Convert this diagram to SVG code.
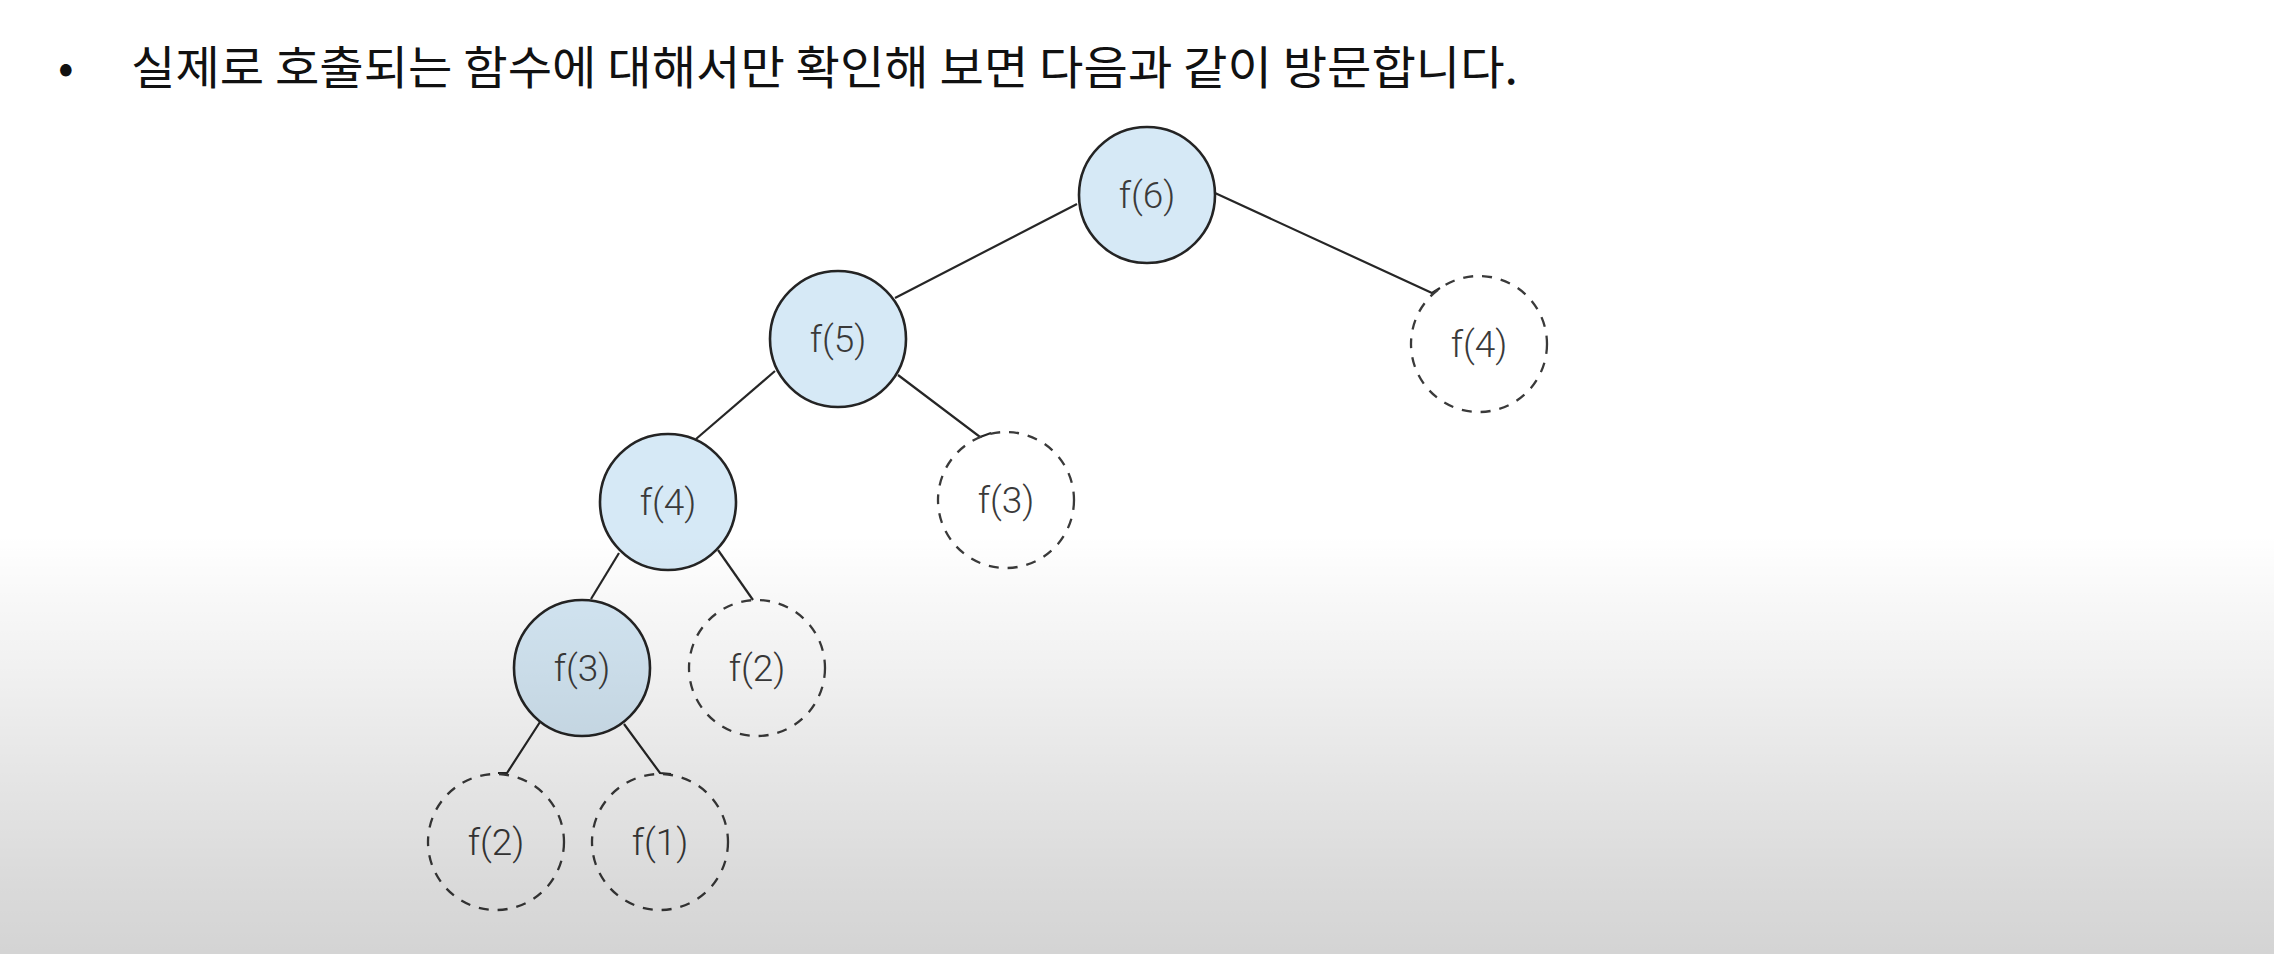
<svg xmlns="http://www.w3.org/2000/svg" width="2274" height="954" viewBox="0 0 2274 954">
  <defs>
    <linearGradient id="shade" x1="0" y1="0" x2="0" y2="1">
      <stop offset="0" stop-color="#000" stop-opacity="0"/>
      <stop offset="0.56" stop-color="#000" stop-opacity="0"/>
      <stop offset="0.62" stop-color="#000" stop-opacity="0.025"/>
      <stop offset="0.76" stop-color="#000" stop-opacity="0.08"/>
      <stop offset="0.91" stop-color="#000" stop-opacity="0.14"/>
      <stop offset="1" stop-color="#000" stop-opacity="0.17"/>
    </linearGradient>
  </defs>
  <style>
    .called { fill: #d6e9f6; stroke: #242424; stroke-width: 2.6; }
    .skipped { fill: none; stroke: #3a3a3a; stroke-width: 2.3; stroke-dasharray: 10 9; }
    .lbl { font-family: Roboto, "Liberation Sans", Arial, sans-serif; font-weight: 300; font-size: 37px; fill: #3a3a3a; text-anchor: middle; }
    .edge { stroke: #262626; stroke-width: 2.2; fill: none; }
    .title { font-family: "Noto Sans CJK KR", "Noto Sans", sans-serif; font-size: 46px; fill: #111; }
  </style>
  <rect x="0" y="0" width="2274" height="954" fill="#ffffff"/>

  <g id="title">
    <text class="title" x="58" y="84">•</text>
    <text class="title" x="131" y="84" textLength="1387" lengthAdjust="spacingAndGlyphs">실제로 호출되는 함수에 대해서만 확인해 보면 다음과 같이 방문합니다.</text>
  </g>

  <g id="connectors">
    <path class="edge" d="M1077,204 L895,298"/>
    <path class="edge" d="M1215,193 L1432,293 L1440,288"/>
    <path class="edge" d="M775,371 L696,439"/>
    <path class="edge" d="M898,375 L980,437 L991,433"/>
    <path class="edge" d="M619,553 L591,599"/>
    <path class="edge" d="M718,550 L753,600"/>
    <path class="edge" d="M540,722 L507,773 L498,773"/>
    <path class="edge" d="M624,724 L660,773 L671,774"/>
  </g>

  <g id="f6">
    <circle class="called" cx="1147" cy="195" r="68"/>
    <text class="lbl" x="1147" y="208">f(6)</text>
  </g>
  <g id="f5">
    <circle class="called" cx="838" cy="339" r="68"/>
    <text class="lbl" x="838" y="352">f(5)</text>
  </g>
  <g id="f4-right">
    <circle class="skipped" cx="1479" cy="344" r="68"/>
    <text class="lbl" x="1479" y="357">f(4)</text>
  </g>
  <g id="f4">
    <circle class="called" cx="668" cy="502" r="68"/>
    <text class="lbl" x="668" y="515">f(4)</text>
  </g>
  <g id="f3-right">
    <circle class="skipped" cx="1006" cy="500" r="68"/>
    <text class="lbl" x="1006" y="513">f(3)</text>
  </g>
  <g id="f3">
    <circle class="called" cx="582" cy="668" r="68"/>
    <text class="lbl" x="582" y="681">f(3)</text>
  </g>
  <g id="f2-mid">
    <circle class="skipped" cx="757" cy="668" r="68"/>
    <text class="lbl" x="757" y="681">f(2)</text>
  </g>
  <g id="f2-bottom">
    <circle class="skipped" cx="496" cy="842" r="68"/>
    <text class="lbl" x="496" y="855">f(2)</text>
  </g>
  <g id="f1">
    <circle class="skipped" cx="660" cy="842" r="68"/>
    <text class="lbl" x="660" y="855">f(1)</text>
  </g>

  <rect x="0" y="0" width="2274" height="954" fill="url(#shade)"/>
</svg>
